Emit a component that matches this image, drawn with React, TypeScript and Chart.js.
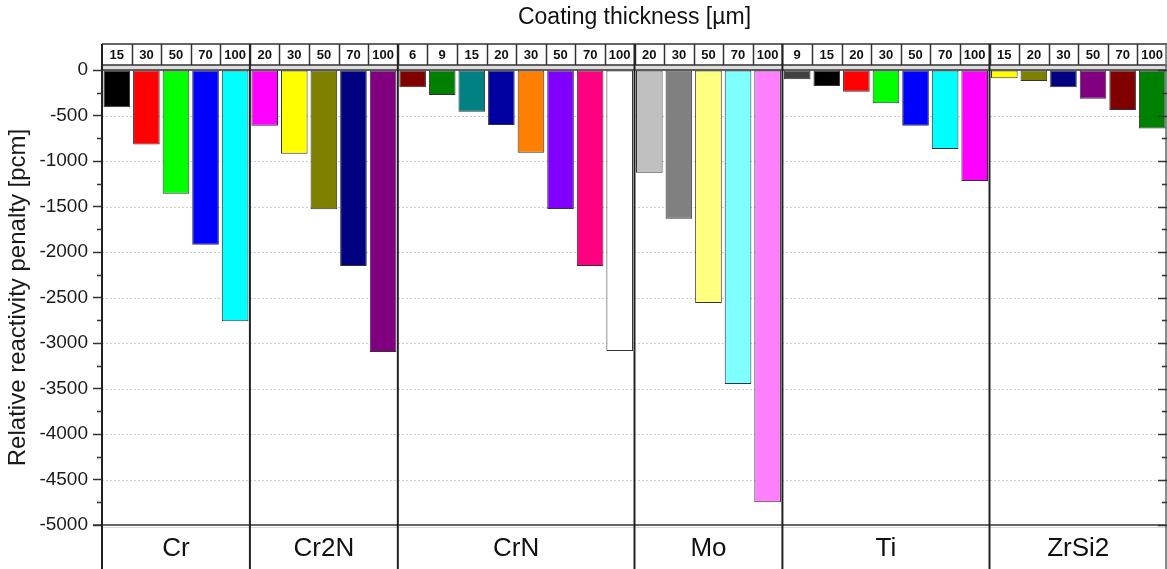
import React, { useEffect, useRef } from 'react';
import { Chart, registerables } from 'chart.js';

Chart.register(...registerables);

// ---- Data ----
const groupNames = ['Cr', 'Cr2N', 'CrN', 'Mo', 'Ti', 'ZrSi2'];

const crThickness = ['15', '30', '50', '70', '100'];
const cr2nThickness = ['20', '30', '50', '70', '100'];
const crnThickness = ['6', '9', '15', '20', '30', '50', '70', '100'];
const moThickness = ['20', '30', '50', '70', '100'];
const tiThickness = ['9', '15', '20', '30', '50', '70', '100'];
const zrsi2Thickness = ['15', '20', '30', '50', '70', '100'];

const crValues = [-410, -820, -1360, -1920, -2760];
const cr2nValues = [-612, -920, -1530, -2155, -3100];
const crnValues = [-190, -275, -458, -604, -910, -1527, -2155, -3088];
const moValues = [-1130, -1635, -2560, -3450, -4750];
const tiValues = [-102, -176, -240, -366, -612, -868, -1220];
const zrsi2Values = [-92, -121, -190, -315, -440, -642];

const crColors = ['#000000', '#ff0000', '#00ff00', '#0000ff', '#00ffff'];
const cr2nColors = ['#ff00ff', '#ffff00', '#808000', '#000080', '#800080'];
const crnColors = ['#800000', '#008000', '#008080', '#0000a0', '#ff8000', '#8000ff', '#ff0080', '#ffffff'];
const moColors = ['#c0c0c0', '#808080', '#ffff80', '#80ffff', '#ff80ff'];
const tiColors = ['#404040', '#000000', '#ff0000', '#00ff00', '#0000ff', '#00ffff', '#ff00ff'];
const zrsi2Colors = ['#ffff00', '#808000', '#000080', '#800080', '#800000', '#008000'];

const yTicks = ['0', '-500', '-1000', '-1500', '-2000', '-2500', '-3000', '-3500', '-4000', '-4500', '-5000'];
const yMinor = 250;

const xTitle = 'Coating thickness [µm]';
const yTitle = 'Relative reactivity penalty [pcm]';

const thicknessGroups = [crThickness, cr2nThickness, crnThickness, moThickness, tiThickness, zrsi2Thickness];
const valueGroups = [crValues, cr2nValues, crnValues, moValues, tiValues, zrsi2Values];
const colorGroups = [crColors, cr2nColors, crnColors, moColors, tiColors, zrsi2Colors];

const labels = thicknessGroups.flat();
const values = valueGroups.flat();
const colors = colorGroups.flat();
const groupCounts = thicknessGroups.map((g) => g.length);

const FONT = "'Liberation Sans', Arial, Helvetica, sans-serif";

const framePlugin = {
  id: 'frame',
  beforeDatasetsDraw(chart: any) {
    const { ctx, chartArea: ca, scales } = chart;
    const y = scales.y;
    ctx.save();
    ctx.strokeStyle = '#cccccc';
    ctx.lineWidth = 1;
    ctx.setLineDash([2, 2]);
    ctx.beginPath();
    yTicks.forEach((t) => {
      const v = Number(t);
      if (v === y.max || v === y.min) return;
      const py = Math.round(y.getPixelForValue(v)) + 0.5;
      ctx.moveTo(ca.left, py);
      ctx.lineTo(ca.right, py);
    });
    ctx.stroke();
    ctx.restore();
  },
  afterDatasetsDraw(chart: any) {
    const { ctx, chartArea: ca, scales } = chart;
    const x = scales.x;
    const y = scales.y;
    const cw = x.getPixelForValue(1) - x.getPixelForValue(0);
    const left = ca.left;
    const right = ca.right;
    const headTop = 44;
    const headBottom = 65;
    const bottom = chart.height;
    const boundary = (i: number) => x.getPixelForValue(i) - cw / 2;

    ctx.save();
    // header row
    ctx.fillStyle = '#ffffff';
    ctx.fillRect(left, headTop, right - left, headBottom - headTop);
    ctx.fillStyle = '#dedede';
    ctx.fillRect(left, headBottom, right - left, ca.top - headBottom);

    ctx.strokeStyle = '#333333';
    ctx.lineWidth = 1.5;
    ctx.beginPath();
    ctx.moveTo(left, headTop);
    ctx.lineTo(right, headTop);
    ctx.moveTo(left, headBottom);
    ctx.lineTo(right, headBottom);
    ctx.moveTo(left, ca.top);
    ctx.lineTo(right, ca.top);
    for (let i = 1; i < labels.length; i++) {
      const bx = Math.round(boundary(i)) + 0.5;
      ctx.moveTo(bx, headTop);
      ctx.lineTo(bx, headBottom);
    }
    ctx.stroke();

    ctx.fillStyle = '#111111';
    ctx.font = `bold 13px ${FONT}`;
    ctx.textAlign = 'center';
    ctx.textBaseline = 'middle';
    labels.forEach((lab, i) => {
      ctx.fillText(lab, x.getPixelForValue(i), (headTop + headBottom) / 2 + 1);
    });

    // footer row
    ctx.fillStyle = '#ffffff';
    ctx.fillRect(left, ca.bottom, right - left, bottom - ca.bottom);
    ctx.strokeStyle = '#333333';
    ctx.lineWidth = 1.5;
    ctx.beginPath();
    ctx.moveTo(left - 9, ca.bottom);
    ctx.lineTo(right, ca.bottom);
    ctx.stroke();
    ctx.strokeStyle = '#d8d8d8';
    ctx.lineWidth = 1;
    ctx.beginPath();
    ctx.moveTo(left, ca.bottom + 2.5);
    ctx.lineTo(right, ca.bottom + 2.5);
    ctx.stroke();

    // group separators
    ctx.strokeStyle = '#222222';
    ctx.lineWidth = 2;
    ctx.beginPath();
    let idx = 0;
    const centers: number[] = [];
    groupCounts.forEach((c, gi) => {
      const start = boundary(idx);
      const end = boundary(idx + c);
      centers.push((start + end) / 2);
      idx += c;
      if (gi < groupCounts.length - 1) {
        ctx.moveTo(end, headTop);
        ctx.lineTo(end, bottom);
      }
    });
    // left axis line
    ctx.moveTo(left, headTop);
    ctx.lineTo(left, bottom);
    ctx.stroke();
    // right edge
    ctx.strokeStyle = '#666666';
    ctx.lineWidth = 1.5;
    ctx.beginPath();
    ctx.moveTo(right - 1, headTop);
    ctx.lineTo(right - 1, bottom);
    ctx.stroke();

    // group labels
    ctx.fillStyle = '#111111';
    ctx.font = `26px ${FONT}`;
    ctx.textAlign = 'center';
    ctx.textBaseline = 'middle';
    groupNames.forEach((g, i) => {
      ctx.fillText(g, centers[i], (ca.bottom + bottom) / 2 + 2);
    });

    // minor/major ticks
    ctx.strokeStyle = '#333333';
    ctx.lineWidth = 1.5;
    ctx.beginPath();
    for (let v = y.max; v >= y.min; v -= yMinor) {
      const py = Math.round(y.getPixelForValue(v)) + 0.5;
      const major = Math.abs(v % 500) < 1e-6;
      if (!major) {
        ctx.moveTo(left - 5, py);
        ctx.lineTo(left, py);
      }
      ctx.moveTo(right, py);
      ctx.lineTo(right - (major ? 9 : 5), py);
    }
    ctx.stroke();

    // top title
    ctx.fillStyle = '#111111';
    ctx.font = `23px ${FONT}`;
    ctx.textAlign = 'center';
    ctx.textBaseline = 'middle';
    ctx.fillText(xTitle, (left + right) / 2, 18);
    ctx.restore();
  },
};

export default function App() {
  const ref = useRef<HTMLCanvasElement | null>(null);

  useEffect(() => {
    document.body.style.margin = '0';
    const canvas = ref.current;
    if (!canvas) return;
    const chart = new Chart(canvas, {
      type: 'bar',
      data: {
        labels,
        datasets: [
          {
            data: values,
            backgroundColor: colors,
            borderColor: '#333333',
            borderWidth: 1,
            borderSkipped: false,
            categoryPercentage: 1,
            barPercentage: 0.9,
          },
        ],
      },
      options: {
        responsive: false,
        animation: false,
        layout: { padding: { top: 70, bottom: 44, left: 0, right: 0 } },
        plugins: {
          legend: { display: false },
          tooltip: { enabled: false },
          title: { display: false },
        },
        scales: {
          x: {
            type: 'category',
            display: false,
            offset: true,
          },
          y: {
            min: -5000,
            max: 0,
            afterFit: (scale: any) => {
              scale.width = 102;
            },
            afterBuildTicks: (scale: any) => {
              scale.ticks = yTicks.map((t) => ({ value: Number(t) }));
            },
            border: { display: false },
            grid: {
              color: 'rgba(0,0,0,0)',
              drawOnChartArea: true,
              drawTicks: true,
              tickLength: 9,
              tickColor: '#333333',
              tickWidth: 1.5,
            },
            ticks: {
              font: { family: FONT, size: 19 },
              color: '#1a1a1a',
              padding: 5,
              callback: (v: any) => String(v),
            },
            title: {
              display: true,
              text: yTitle,
              font: { family: FONT, size: 24 },
              color: '#1a1a1a',
              padding: { top: 4, bottom: 2 },
            },
          },
        },
      },
      plugins: [framePlugin],
    });
    return () => chart.destroy();
  }, []);

  return (
    <div style={{ width: 1167, height: 569 }}>
      <canvas ref={ref} width={1167} height={569} style={{ display: 'block' }} />
    </div>
  );
}
